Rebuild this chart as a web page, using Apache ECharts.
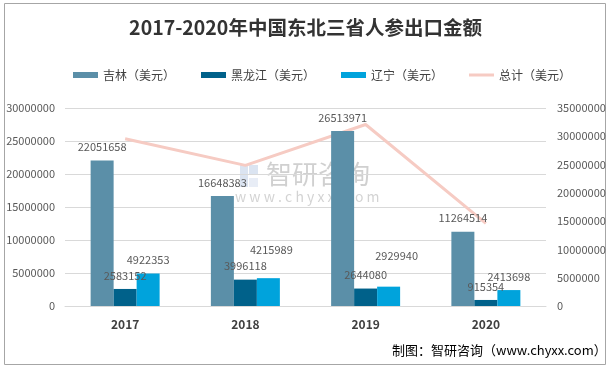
<!DOCTYPE html>
<html><head><meta charset="utf-8">
<script src="https://cdn.jsdelivr.net/npm/echarts@6/dist/echarts.min.js"></script>
<style>html,body{margin:0;padding:0;background:#fff}#c{width:611px;height:368px}</style>
</head><body><div id="c"></div>
<script>
const categories = ['2017', '2018', '2019', '2020'];
const jilin = [22051658, 16648383, 26513971, 11264514];
const heilongjiang = [2583152, 3996118, 2644080, 915354];
const liaoning = [4922353, 4215989, 2929940, 2413698];
const total = [29557163, 24860490, 32087991, 14593566];
const leftTicks = [0, 30000000, 5000000];
const rightTicks = [0, 35000000, 5000000];
// label nudges (style only) for the Liaoning labels, as placed in the original
const liaoningLabelOffset = [[0, 0], [3, -15], [8, -17], [0, 0]];

const chart = echarts.init(document.getElementById('c'));
const font = '"Noto Sans CJK SC", "Microsoft YaHei", sans-serif';
const lbl = {show: true, position: 'top', distance: 8, color: '#595959', fontSize: 11, fontFamily: font};
const plain = v => String(v);
chart.setOption({
  animation: false,
  textStyle: {fontFamily: font},
  title: {text: '2017-2020年中国东北三省人参出口金额', left: 'center', top: 13,
    textStyle: {fontSize: 19.5, fontWeight: 'bold', color: '#333', fontFamily: font}},
  legend: {top: 64, left: 68, itemWidth: 25, itemHeight: 6, itemGap: 26,
    textStyle: {fontSize: 12, color: '#404040', fontFamily: font},
    data: [{name: '吉林（美元）', icon: 'rect'}, {name: '黑龙江（美元）', icon: 'rect'}, {name: '辽宁（美元）', icon: 'rect'},
      {name: '总计（美元）', icon: 'path://M0,0L25,0L25,3L0,3Z'}]},
  grid: {left: 65, right: 65, top: 108, bottom: 62},
  xAxis: {type: 'category', data: categories,
    axisLine: {lineStyle: {color: '#d9d9d9'}}, axisTick: {show: false},
    axisLabel: {color: '#404040', fontWeight: 'bold', fontSize: 12, margin: 12}},
  yAxis: [
    {type: 'value', min: leftTicks[0], max: leftTicks[1], interval: leftTicks[2],
      axisLabel: {color: '#595959', fontSize: 11, margin: 10, formatter: plain},
      splitLine: {lineStyle: {color: '#d9d9d9'}}, axisLine: {show: false}, axisTick: {show: false}},
    {type: 'value', min: rightTicks[0], max: rightTicks[1], interval: rightTicks[2],
      axisLabel: {color: '#595959', fontSize: 11, margin: 11, formatter: plain},
      splitLine: {show: false}, axisLine: {show: false}, axisTick: {show: false}}
  ],
  series: [
    {name: '吉林（美元）', type: 'bar', data: jilin, barWidth: 23, barGap: '0%', itemStyle: {color: '#5b8fa8'}, label: lbl, z: 2},
    {name: '黑龙江（美元）', type: 'bar', data: heilongjiang, barWidth: 23, barGap: '0%', itemStyle: {color: '#00618a'}, label: lbl, z: 2},
    {name: '辽宁（美元）', type: 'bar', barWidth: 23, barGap: '0%', itemStyle: {color: '#00a3dc'}, label: lbl, z: 2,
      data: liaoning.map((v, i) => ({value: v, label: {offset: liaoningLabelOffset[i]}}))},
    {name: '总计（美元）', type: 'line', yAxisIndex: 1, data: total, symbol: 'none', showSymbol: false,
      lineStyle: {color: '#f6cbc3', width: 3}, itemStyle: {color: '#f6cbc3'}, z: 1}
  ],
  graphic: [
    {type: 'rect', shape: {x: 4.5, y: 3.5, width: 601, height: 361}, style: {fill: 'none', stroke: '#a6a6a6', lineWidth: 1}, silent: true},
    {type: 'rect', shape: {x: 240, y: 165, width: 8, height: 22}, style: {fill: 'rgba(90,130,190,0.22)'}, silent: true},
    {type: 'rect', shape: {x: 249, y: 165, width: 9, height: 10}, style: {fill: 'rgba(90,130,190,0.22)'}, silent: true},
    {type: 'rect', shape: {x: 249, y: 178, width: 9, height: 9}, style: {fill: 'rgba(90,130,190,0.14)'}, silent: true},
    {type: 'text', left: 266, top: 161, style: {text: '智研咨询', fontSize: 26, fill: 'rgba(110,110,110,0.32)', fontFamily: font}, silent: true},
    {type: 'text', left: 235, top: 190, style: {text: 'w w w . c h y x x . c o m', fontSize: 14, fill: 'rgba(110,110,110,0.3)', fontFamily: font}, silent: true},
    {type: 'text', left: 392, top: 344, style: {text: '制图：智研咨询（www.chyxx.com）', fontSize: 13, fill: '#000', fontFamily: font}, silent: true}
  ]
});
</script></body></html>
